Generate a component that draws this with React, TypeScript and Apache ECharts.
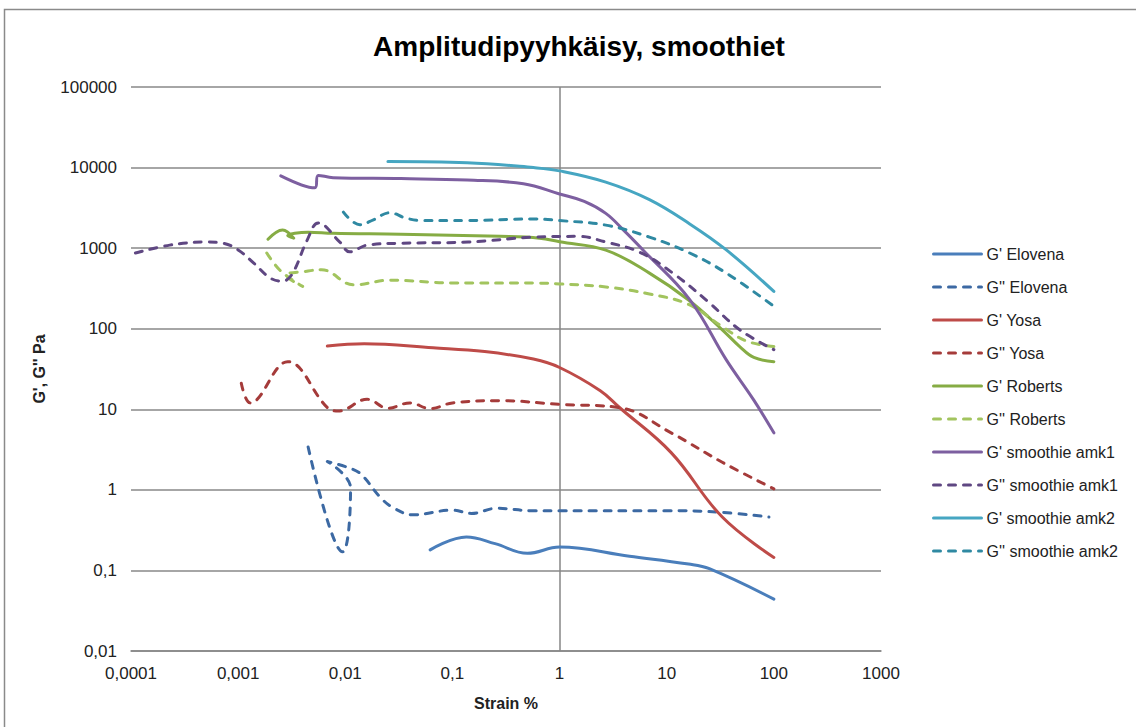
import React, { useEffect, useRef } from 'react';
import * as echarts from 'echarts';

const xTickLabels = ['0,0001', '0,001', '0,01', '0,1', '1', '10', '100', '1000'];
const yTickLabels = ['0,01', '0,1', '1', '10', '100', '1000', '10000', '100000'];

const seriesNames = [
  "G' Elovena",
  "G'' Elovena",
  "G' Yosa",
  "G'' Yosa",
  "G' Roberts",
  "G'' Roberts",
  "G' smoothie amk1",
  "G'' smoothie amk1",
  "G' smoothie amk2",
  "G'' smoothie amk2",
];

const elovenaGp = [[0.062, 0.18], [0.135, 0.26], [0.25, 0.215], [0.5, 0.163], [1, 0.195], [4.5, 0.15], [16, 0.12], [25, 0.105], [100, 0.044]];
const elovenaGpp = [[0.0045, 3.4], [0.0094, 0.17], [0.0112, 1.05], [0.0068, 2.25], [0.0118, 1.8], [0.0145, 1.5], [0.021, 0.82], [0.028, 0.6], [0.043, 0.49], [0.1, 0.56], [0.15, 0.51], [0.26, 0.59], [0.57, 0.55], [1, 0.55], [10, 0.55], [30, 0.53], [90, 0.46]];
const yosaGp = [[0.0068, 61], [0.015, 65], [0.066, 58], [0.2, 52], [0.57, 42], [1, 33], [2.4, 17], [3.6, 10.6], [11, 2.9], [33, 0.46], [100, 0.145]];
const yosaGpp = [[0.00107, 21], [0.0013, 12], [0.0029, 39], [0.0068, 10.5], [0.0086, 9.5], [0.016, 13.3], [0.025, 10.3], [0.04, 12], [0.062, 10.2], [0.1, 12], [0.28, 12.8], [1, 11.5], [3.6, 10.5], [11, 5.1], [33, 2.2], [100, 1.03]];
const robertsGp = [[0.0019, 1290], [0.0026, 1680], [0.0033, 1330], [0.0029, 1420], [0.0045, 1580], [0.0077, 1530], [0.033, 1490], [0.28, 1400], [0.65, 1330], [1, 1200], [2.7, 945], [6.9, 490], [16, 227], [33, 97], [48, 60], [65, 44], [100, 39]];
const robertsGpp = [[0.00185, 870], [0.0025, 520], [0.004, 335], [0.0028, 460], [0.0045, 520], [0.006, 540], [0.012, 350], [0.026, 400], [0.1, 370], [0.65, 368], [1, 360], [2.7, 330], [6.9, 270], [16, 200], [33, 106], [56, 70], [100, 60]];
const amk1Gp = [[0.0025, 7900], [0.0052, 5600], [0.0056, 8000], [0.0077, 7500], [0.033, 7300], [0.137, 7000], [0.46, 6300], [1, 4700], [1.7, 3800], [2.7, 2700], [4, 1650], [6, 950], [16.4, 230], [36, 41], [65, 13], [100, 5.1]];
const amk1Gpp = [[0.00011, 870], [0.00023, 1090], [0.0005, 1190], [0.00072, 1150], [0.001, 950], [0.0014, 650], [0.002, 425], [0.0026, 390], [0.0032, 480], [0.0044, 1250], [0.0056, 2050], [0.0089, 1190], [0.011, 900], [0.016, 1090], [0.033, 1150], [0.14, 1190], [0.57, 1370], [1.5, 1400], [2.7, 1190], [5.6, 890], [11.4, 490], [24, 220], [48, 97], [100, 55]];
const amk2Gp = [[0.025, 11900], [0.137, 11500], [0.57, 10000], [1, 9100], [2.7, 6600], [6.9, 4000], [16.4, 2000], [36, 950], [100, 290]];
const amk2Gpp = [[0.0096, 2800], [0.0137, 1950], [0.0183, 2250], [0.026, 2750], [0.037, 2350], [0.053, 2200], [0.137, 2200], [0.57, 2300], [1, 2200], [2.7, 1930], [6.9, 1370], [16.4, 870], [36, 490], [100, 190]];

const seriesData = [elovenaGp, elovenaGpp, yosaGp, yosaGpp, robertsGp, robertsGpp, amk1Gp, amk1Gpp, amk2Gp, amk2Gpp];
const seriesColors = ['#4A7EBB', '#3C69A3', '#BE4B48', '#A53B3A', '#86AC44', '#A2C45E', '#7D5FA0', '#5F4782', '#46A6C2', '#2F89A2'];
const seriesDashed = [false, true, false, true, false, true, false, true, false, true];

const FONT = 'Liberation Sans, Arial, sans-serif';

export default function App() {
  const ref = useRef<HTMLDivElement>(null);
  useEffect(() => {
    const chart = echarts.init(ref.current!, null, { renderer: 'svg' });
    const series: any[] = seriesNames.map((name, i) => ({
      name,
      type: 'line',
      data: seriesData[i],
      smooth: 0.4,
      symbol: 'none',
      showSymbol: false,
      z: 3,
      itemStyle: { color: seriesColors[i], opacity: 0 },
      lineStyle: {
        color: seriesColors[i],
        width: 3,
        type: seriesDashed[i] ? [7, 8] : 'solid',
        cap: 'round',
        join: 'round',
        opacity: 1,
      },
    }));
    series[0].markLine = {
      silent: true,
      symbol: ['none', 'none'],
      label: { show: false },
      lineStyle: { color: '#868686', type: 'solid', width: 1.5, opacity: 1 },
      data: [{ xAxis: 1 }],
      z: 1,
    };
    chart.setOption({
      animation: false,
      textStyle: { fontFamily: FONT },
      title: {
        text: 'Amplitudipyyhkäisy, smoothiet',
        left: 574,
        top: 27,
        textAlign: 'center',
        textStyle: { fontSize: 28, fontWeight: 'bold', color: '#000', fontFamily: FONT },
      },
      graphic: [
        {
          type: 'rect',
          shape: { x: 4.5, y: 9.5, width: 1300, height: 900 },
          style: { fill: 'none', stroke: '#8a8a8a', lineWidth: 1.5 },
          silent: true,
        },
      ],
      legend: {
        orient: 'vertical',
        left: 927,
        top: 241,
        itemWidth: 48,
        itemHeight: 12,
        itemGap: 17,
        data: seriesNames,
        itemStyle: { opacity: 0 },
        lineStyle: { width: 3, cap: 'round' },
        textStyle: { fontSize: 16, color: '#222', fontFamily: FONT },
      },
      grid: { left: 131, top: 87, width: 750, height: 564 },
      xAxis: {
        type: 'log',
        logBase: 10,
        min: 0.0001,
        max: 1000,
        splitNumber: 7,
        axisLine: { show: true, lineStyle: { color: '#868686', width: 1.5 } },
        axisTick: { show: false },
        splitLine: { show: false },
        axisLabel: {
          formatter: (v: number) => xTickLabels[Math.round(Math.log10(v)) + 4],
          color: '#222',
          fontSize: 17,
          margin: 14,
          fontFamily: FONT,
        },
        name: 'Strain %',
        nameLocation: 'middle',
        nameGap: 44,
        nameTextStyle: { fontWeight: 'bold', fontSize: 16, color: '#222', fontFamily: FONT },
      },
      yAxis: {
        type: 'log',
        logBase: 10,
        min: 0.01,
        max: 100000,
        splitNumber: 7,
        axisLine: { show: false },
        axisTick: { show: false },
        splitLine: { show: true, lineStyle: { color: '#898989', width: 1.5 } },
        axisLabel: {
          formatter: (v: number) => yTickLabels[Math.round(Math.log10(v)) + 2],
          color: '#222',
          fontSize: 17,
          margin: 14,
          fontFamily: FONT,
        },
        name: "G', G'' Pa",
        nameLocation: 'middle',
        nameGap: 84,
        nameTextStyle: { fontWeight: 'bold', fontSize: 16, color: '#222', fontFamily: FONT },
      },
      series,
    });
    return () => chart.dispose();
  }, []);
  return <div ref={ref} style={{ position: 'absolute', left: 0, top: 0, width: 1136, height: 727 }} />;
}
